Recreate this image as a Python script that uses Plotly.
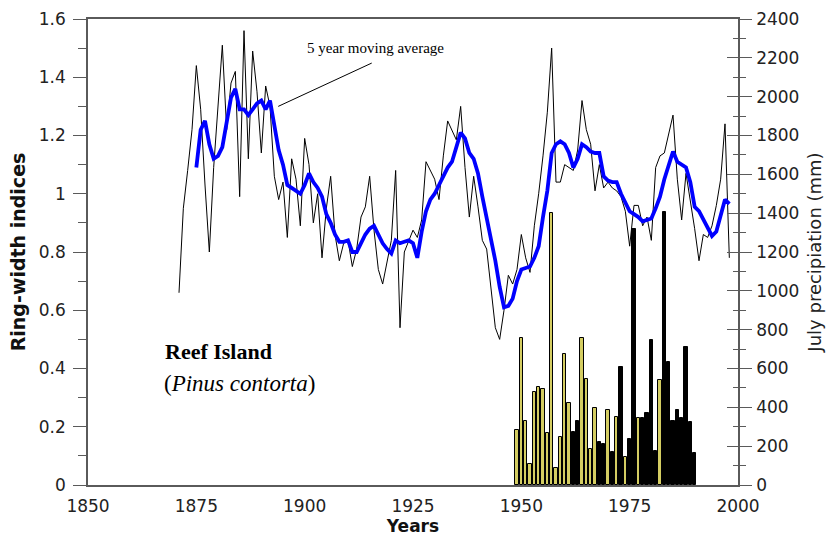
import plotly.graph_objects as go

# ---------------- data ----------------
years = list(range(1871, 1999))
ring_width = [
    0.66, 0.95, 1.08, 1.22, 1.44, 1.29, 1.03, 0.80, 1.09,            # 1871-1879
    1.29, 1.51, 1.22, 1.38, 1.42, 0.99, 1.56, 1.12, 1.49, 1.35,      # 1880-1889
    1.14, 1.37, 1.30, 1.06, 0.98, 1.04, 0.85, 1.12, 1.05, 0.89,      # 1890-1899
    1.19, 1.10, 0.90, 1.00, 0.78, 0.95, 1.06, 0.86, 0.77, 0.83,      # 1900-1909
    0.84, 0.75, 0.81, 0.92, 0.955, 1.06, 0.875, 0.74, 0.69, 0.76,    # 1910-1919
    0.84, 1.08, 0.54, 0.80, 0.84, 0.875, 0.85, 0.91, 1.11, 1.08,     # 1920-1929
    1.05, 0.98, 1.13, 1.25, 1.22, 1.185, 1.30, 1.09, 0.92, 1.06,     # 1930-1939
    0.955, 0.84, 0.81, 0.68, 0.54, 0.50, 0.60, 0.72, 0.69, 0.74,     # 1940-1949
    0.86, 0.78, 0.73, 0.89, 1.00, 1.13, 1.28, 1.50, 1.04, 1.04,      # 1950-1959
    1.10, 1.09, 1.08, 1.15, 1.32, 1.22, 1.17, 1.01, 1.10, 1.02,      # 1960-1969
    1.04, 1.02, 1.01, 0.99, 0.94, 0.82, 0.96, 0.96, 0.89, 0.92,      # 1970-1979
    0.84, 1.09, 1.13, 1.14, 1.20, 1.27, 1.05, 0.91, 1.07, 0.98,      # 1980-1989
    0.88, 0.77, 0.86, 0.85, 0.89, 0.96, 1.05, 1.24, 0.78,            # 1990-1998
]

ma_years = list(range(1875, 1999))
ma_values = [
    1.09, 1.22, 1.25, 1.17, 1.12,                                    # 1875-1879
    1.13, 1.16, 1.25, 1.33, 1.36, 1.29, 1.29, 1.27, 1.29, 1.31,      # 1880-1889
    1.32, 1.29, 1.32, 1.24, 1.15, 1.10, 1.03, 1.02, 1.01, 1.00,      # 1890-1899
    1.03, 1.07, 1.04, 1.02, 0.99, 0.93, 0.90, 0.86, 0.835, 0.835,    # 1900-1909
    0.84, 0.80, 0.80, 0.83, 0.86, 0.88, 0.89, 0.86, 0.83, 0.81,      # 1910-1919
    0.795, 0.84, 0.83, 0.835, 0.84, 0.83, 0.78, 0.87, 0.94, 0.98,    # 1920-1929
    1.00, 1.03, 1.06, 1.09, 1.11, 1.16, 1.21, 1.19, 1.14, 1.12,      # 1930-1939
    1.07, 0.99, 0.92, 0.85, 0.77, 0.68, 0.61, 0.615, 0.64, 0.70,     # 1940-1949
    0.74, 0.745, 0.75, 0.78, 0.82, 0.92, 1.01, 1.14, 1.17, 1.18,     # 1950-1959
    1.17, 1.14, 1.09, 1.12, 1.17, 1.16, 1.145, 1.14, 1.14, 1.06,     # 1960-1969
    1.045, 1.04, 1.04, 1.00, 0.97, 0.94, 0.93, 0.92, 0.905, 0.91,    # 1970-1979
    0.915, 0.95, 0.99, 1.05, 1.10, 1.145, 1.11, 1.10, 1.09, 1.04,    # 1980-1989
    0.955, 0.94, 0.91, 0.88, 0.855, 0.87, 0.92, 0.98, 0.965,         # 1990-1998
]

precip_years = list(range(1949, 1991))
precip_mm = [
    283, 755, 331, 106, 477, 506, 493, 270, 1399, 86,                # 1949-1958
    245, 673, 420, 271, 331, 755, 546, 184, 399, 220,                # 1959-1968
    211, 384, 168, 352, 606, 146, 235, 1320, 343, 347,               # 1969-1978
    370, 747, 177, 539, 1408, 635, 331, 384, 347, 712,               # 1979-1988
    323, 166,                                                        # 1989-1990
]
precip_group = [
    "Y", "Y", "Y", "Y", "Y", "Y", "Y", "Y", "Y", "Y",
    "Y", "Y", "Y", "B", "B", "Y", "Y", "Y", "Y", "B",
    "B", "Y", "B", "Y", "B", "Y", "B", "B", "Y", "B",
    "B", "B", "B", "Y", "B", "B", "B", "B", "B", "B",
    "B", "B",
]

left_ticks = [0, 0.2, 0.4, 0.6, 0.8, 1.0, 1.2, 1.4, 1.6]
left_tick_text = ["0", "0.2", "0.4", "0.6", "0.8", "1", "1.2", "1.4", "1.6"]
x_ticks = [1850, 1875, 1900, 1925, 1950, 1975, 2000]

# ---------------- styles ----------------
YELLOW = "#d4cd62"
AXIS = "#5a5a5a"
FONT = "DejaVu Sans"
SERIF = "Liberation Serif"

bar_colors = [YELLOW if g == "Y" else "#000000" for g in precip_group]

fig = go.Figure()

fig.add_trace(go.Bar(
    x=precip_years, y=precip_mm, yaxis="y2",
    marker=dict(color=bar_colors, line=dict(color="#000000", width=1)),
    width=0.72, showlegend=False, name="July precipitation",
))

fig.add_trace(go.Scatter(
    x=years, y=ring_width, mode="lines",
    line=dict(color="#000000", width=1), showlegend=False, name="Ring-width",
))

fig.add_trace(go.Scatter(
    x=ma_years, y=ma_values, mode="lines",
    line=dict(color="#0000ff", width=3.8), showlegend=False,
    name="5 year moving average",
))

# invisible trace to activate inner-tick overlay axis
fig.add_trace(go.Scatter(x=[1850], y=[0], yaxis="y3", mode="markers",
                         marker=dict(opacity=0), showlegend=False, hoverinfo="skip"))

fig.update_layout(
    width=833, height=540,
    margin=dict(l=88, r=95, t=19, b=55, autoexpand=False),
    paper_bgcolor="white", plot_bgcolor="white",
    font=dict(family=FONT, size=17, color="#222222"),
    showlegend=False,
    bargap=0,
    xaxis=dict(
        range=[1850, 2000], tickvals=x_ticks, ticks="",
        showline=True, linecolor=AXIS, linewidth=1.5, mirror=True,
        showgrid=False, zeroline=False, automargin=False,
        ticklabelstandoff=5,
        title=dict(text="<b>Years</b>", font=dict(family=FONT, size=17, color="#111"),
                   standoff=0),
    ),
    yaxis=dict(
        range=[0, 1.6], tickvals=left_ticks, ticktext=left_tick_text,
        ticks="outside", ticklen=13, tickcolor=AXIS, tickwidth=1,
        minor=dict(dtick=0.1, ticks="outside", ticklen=8, tickcolor=AXIS),
        showline=True, linecolor=AXIS, linewidth=1.5,
        showgrid=False, zeroline=False, automargin=False,
        ticklabelstandoff=4,
        title=dict(text="<b>Ring-width indices</b>",
                   font=dict(family=FONT, size=19, color="#111"), standoff=8),
    ),
    yaxis2=dict(
        range=[0, 2400], dtick=200, overlaying="y", side="right", anchor="x",
        ticks="outside", ticklen=12, tickcolor=AXIS,
        minor=dict(dtick=100, ticks="outside", ticklen=6, tickcolor=AXIS),
        showline=True, linecolor=AXIS, linewidth=1.5,
        showgrid=False, zeroline=False, automargin=False,
        ticklabelstandoff=1,
        title=dict(text="July precipiation (mm)",
                   font=dict(family=FONT, size=18, color="#222"), standoff=10),
    ),
    yaxis3=dict(
        range=[0, 2400], dtick=200, overlaying="y", side="right", anchor="x",
        ticks="inside", ticklen=11, tickcolor=AXIS,
        minor=dict(dtick=100, ticks="inside", ticklen=5, tickcolor=AXIS),
        showticklabels=False, showline=False, showgrid=False, zeroline=False,
        automargin=False,
    ),
    annotations=[
        dict(x=1893.9, y=1.30, xref="x", yref="y", text="", showarrow=True,
             arrowhead=0, arrowwidth=1, arrowcolor="#000000",
             ax=95, ay=-44, axref="pixel", ayref="pixel"),
        dict(x=1900.1, y=1.50, xref="x", yref="y", xanchor="left", yanchor="middle",
             text="5 year moving average", showarrow=False,
             font=dict(family=SERIF, size=15, color="#000000")),
        dict(x=1867.3, y=0.46, xref="x", yref="y", xanchor="left", yanchor="middle",
             text="<b>Reef Island</b>", showarrow=False,
             font=dict(family=SERIF, size=22, color="#000000")),
        dict(x=1867.0, y=0.347, xref="x", yref="y", xanchor="left", yanchor="middle",
             text="(<i>Pinus contorta</i>)", showarrow=False,
             font=dict(family=SERIF, size=23, color="#000000")),
    ],
)

fig.write_html(
    "out.html",
    config={"displayModeBar": False},
    post_script="document.body.style.margin='0px';document.body.style.overflow='hidden';",
)
